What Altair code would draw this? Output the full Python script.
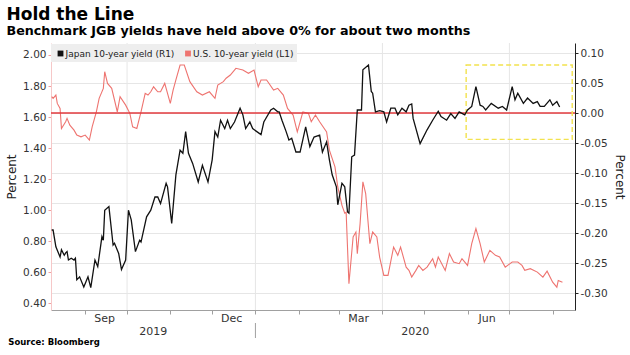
import altair as alt
import pandas as pd

TITLE = "Hold the Line"
SUBTITLE = "Benchmark JGB yields have held above 0% for about two months"
SOURCE = "Source: Bloomberg"
JP_NAME = "Japan 10-year yield (R1)"
US_NAME = "U.S. 10-year yield (L1)"
AXIS_TITLE = "Percent"

jp_dates = [
    "2019-08-08", "2019-08-09", "2019-08-11", "2019-08-14", "2019-08-15", "2019-08-17", "2019-08-18",
    "2019-08-19", "2019-08-20", "2019-08-22", "2019-08-24", "2019-08-25", "2019-08-26", "2019-08-28",
    "2019-08-31", "2019-09-03", "2019-09-05", "2019-09-08", "2019-09-10", "2019-09-13", "2019-09-14",
    "2019-09-15", "2019-09-18", "2019-09-21", "2019-09-22", "2019-09-25", "2019-09-27", "2019-09-30",
    "2019-10-02", "2019-10-04", "2019-10-07", "2019-10-10", "2019-10-11", "2019-10-15", "2019-10-18",
    "2019-10-21", "2019-10-23", "2019-10-25", "2019-10-29", "2019-10-30",
    "2019-11-02", "2019-11-05", "2019-11-08", "2019-11-10", "2019-11-12", "2019-11-14", "2019-11-17",
    "2019-11-21", "2019-11-24", "2019-11-28",
    "2019-12-01", "2019-12-03", "2019-12-05", "2019-12-07", "2019-12-10", "2019-12-12", "2019-12-14",
    "2019-12-17", "2019-12-21", "2019-12-23", "2019-12-25", "2019-12-28", "2019-12-30",
    "2020-01-05", "2020-01-07", "2020-01-12", "2020-01-14", "2020-01-17", "2020-01-18", "2020-01-20",
    "2020-01-23", "2020-01-25", "2020-01-27", "2020-01-30",
    "2020-02-02", "2020-02-06", "2020-02-09", "2020-02-12", "2020-02-16", "2020-02-18", "2020-02-21",
    "2020-02-23", "2020-02-25", "2020-02-28", "2020-02-29",
    "2020-03-03", "2020-03-05", "2020-03-07", "2020-03-08", "2020-03-10", "2020-03-12", "2020-03-14",
    "2020-03-17", "2020-03-18", "2020-03-22", "2020-03-24", "2020-03-25", "2020-03-27", "2020-03-30",
    "2020-04-02", "2020-04-04", "2020-04-07", "2020-04-10", "2020-04-12", "2020-04-15", "2020-04-18",
    "2020-04-20", "2020-04-22", "2020-04-23", "2020-04-28",
    "2020-05-03", "2020-05-07", "2020-05-11", "2020-05-13", "2020-05-17", "2020-05-20", "2020-05-23",
    "2020-05-26", "2020-05-30",
    "2020-06-01", "2020-06-04", "2020-06-07", "2020-06-10", "2020-06-12", "2020-06-14", "2020-06-18",
    "2020-06-23", "2020-06-26", "2020-06-29",
    "2020-07-03", "2020-07-05", "2020-07-07", "2020-07-11", "2020-07-14", "2020-07-18", "2020-07-21",
    "2020-07-23", "2020-07-26", "2020-07-30",
    "2020-08-01", "2020-08-04", "2020-08-06",
]
jp_values = [
    -0.195, -0.195, -0.223, -0.240, -0.228, -0.237, -0.233,
    -0.231, -0.245, -0.242, -0.245, -0.242, -0.278, -0.273,
    -0.290, -0.273, -0.291, -0.245, -0.256, -0.206, -0.212,
    -0.162, -0.156, -0.220, -0.217, -0.234, -0.261, -0.245,
    -0.162, -0.178, -0.231, -0.212, -0.215, -0.173, -0.162,
    -0.140, -0.140, -0.151, -0.117, -0.123,
    -0.184, -0.103, -0.062, -0.067, -0.031, -0.067, -0.084,
    -0.115, -0.087, -0.115,
    -0.078, -0.031, -0.040, -0.012, -0.026, -0.012, -0.026,
    -0.015, 0.008, -0.003, -0.026, -0.015, -0.026,
    -0.036, -0.015, 0.005, 0.008, 0.002, 0.002, -0.012,
    -0.031, -0.045, -0.042, -0.065,
    -0.065, -0.023, -0.056, -0.040, -0.037, -0.065, -0.048,
    -0.078, -0.103, -0.123, -0.153,
    -0.117, -0.123, -0.165, -0.167, -0.073, -0.070, 0.005,
    0.005, 0.072, 0.080, 0.036, 0.033, 0.002, 0.004,
    0.002, -0.015, 0.008, 0.008, -0.003, 0.008, 0.002,
    0.013, 0.015, -0.009, -0.051,
    -0.028, -0.012, 0.003, -0.006, -0.012, -0.001, -0.009,
    0.002, -0.003,
    0.005, 0.011, 0.044, 0.013, 0.011, 0.005, 0.016,
    0.008, 0.011, 0.005,
    0.044, 0.022, 0.033, 0.016, 0.025, 0.016, 0.019,
    0.011, 0.011, 0.022,
    0.013, 0.019, 0.010,
]

us_dates = [
    "2019-08-08", "2019-08-09", "2019-08-11", "2019-08-12", "2019-08-14", "2019-08-15", "2019-08-18",
    "2019-08-19", "2019-08-21", "2019-08-24", "2019-08-26", "2019-08-29",
    "2019-09-01", "2019-09-04", "2019-09-06", "2019-09-09", "2019-09-11", "2019-09-14", "2019-09-15",
    "2019-09-17", "2019-09-20", "2019-09-22", "2019-09-24", "2019-09-26", "2019-09-30",
    "2019-10-03", "2019-10-05", "2019-10-08", "2019-10-11", "2019-10-14", "2019-10-16", "2019-10-18",
    "2019-10-20", "2019-10-23", "2019-10-25", "2019-10-28",
    "2019-11-01", "2019-11-03", "2019-11-05", "2019-11-08", "2019-11-11", "2019-11-15", "2019-11-20",
    "2019-11-24", "2019-11-29",
    "2019-12-03", "2019-12-05", "2019-12-09", "2019-12-11", "2019-12-14", "2019-12-18", "2019-12-23",
    "2019-12-27", "2019-12-31",
    "2020-01-03", "2020-01-05", "2020-01-09", "2020-01-14", "2020-01-17", "2020-01-21", "2020-01-24",
    "2020-01-28", "2020-01-31",
    "2020-02-04", "2020-02-08", "2020-02-10", "2020-02-13", "2020-02-16", "2020-02-21", "2020-02-23",
    "2020-02-27", "2020-02-29",
    "2020-03-03", "2020-03-05", "2020-03-06", "2020-03-08", "2020-03-11", "2020-03-13", "2020-03-14",
    "2020-03-16", "2020-03-18", "2020-03-20", "2020-03-23", "2020-03-25", "2020-03-28", "2020-03-30",
    "2020-04-02", "2020-04-05", "2020-04-09", "2020-04-12", "2020-04-14", "2020-04-18", "2020-04-20",
    "2020-04-22", "2020-04-25", "2020-04-27", "2020-04-30",
    "2020-05-03", "2020-05-07", "2020-05-09", "2020-05-11", "2020-05-16", "2020-05-19", "2020-05-22",
    "2020-05-26", "2020-05-28",
    "2020-06-01", "2020-06-04", "2020-06-07", "2020-06-10", "2020-06-13", "2020-06-17", "2020-06-21",
    "2020-06-24", "2020-06-28",
    "2020-07-03", "2020-07-07", "2020-07-10", "2020-07-12", "2020-07-16", "2020-07-21", "2020-07-25",
    "2020-07-28",
    "2020-08-01", "2020-08-04", "2020-08-05", "2020-08-08",
]
us_values = [
    1.731, 1.721, 1.742, 1.688, 1.656, 1.527, 1.570,
    1.592, 1.548, 1.516, 1.484, 1.473,
    1.484, 1.452, 1.537, 1.634, 1.721, 1.785, 1.892,
    1.817, 1.785, 1.710, 1.634, 1.731, 1.677,
    1.624, 1.537, 1.527, 1.634, 1.753, 1.742, 1.763,
    1.795, 1.763, 1.763, 1.817,
    1.688, 1.774, 1.839, 1.935, 1.935, 1.828, 1.763,
    1.742, 1.763,
    1.721, 1.806, 1.828, 1.850, 1.871, 1.914, 1.903,
    1.882, 1.903,
    1.795, 1.839, 1.839, 1.774, 1.785, 1.742, 1.656,
    1.613, 1.505,
    1.634, 1.624, 1.570, 1.613, 1.570, 1.505, 1.387,
    1.279, 1.150,
    1.032, 0.981, 0.987, 0.527, 0.828, 0.860, 0.721,
    0.914, 1.183, 1.108, 0.785, 0.860, 0.828, 0.699,
    0.581, 0.581, 0.763, 0.710, 0.763, 0.634, 0.613,
    0.570, 0.613, 0.645, 0.613,
    0.634, 0.688, 0.634, 0.699, 0.613, 0.721, 0.667,
    0.656, 0.688,
    0.645, 0.785, 0.882, 0.785, 0.667, 0.742, 0.710,
    0.699, 0.634,
    0.667, 0.667, 0.645, 0.613, 0.624, 0.602, 0.570,
    0.608,
    0.537, 0.505, 0.548, 0.537,
]

left_ticks = [0.40, 0.60, 0.80, 1.00, 1.20, 1.40, 1.60, 1.80, 2.00]
right_ticks = [-0.30, -0.25, -0.20, -0.15, -0.10, -0.05, 0.00, 0.05, 0.10]
us_domain = [0.358, 2.077]
jp_domain = [-0.3283, 0.1167]
zero_level = [0.0]

month_ticks = ["2019-09-01", "2019-10-01", "2019-11-01", "2019-12-01", "2020-01-01", "2020-02-01",
               "2020-03-01", "2020-04-01", "2020-05-01", "2020-06-01", "2020-07-01", "2020-08-01"]
quarter_grid = ["2019-10-01", "2020-01-01", "2020-04-01", "2020-07-01"]
month_labels = ["Sep", "Dec", "Mar", "Jun"]
month_label_dates = ["2019-09-15", "2019-12-15", "2020-03-15", "2020-06-15"]
year_labels = ["2019", "2020"]
year_break = "2020-01-01"
x_start, x_end = "2019-08-07 12:00", "2020-08-17"

box_start, box_end = "2020-05-31", "2020-08-15"
box_top, box_bottom = 0.08, -0.044

assert len(jp_dates) == len(jp_values)
assert len(us_dates) == len(us_values)

W, H = 524, 267
FONT = "DejaVu Sans"
US_COLOR = "#ee7470"
ZERO_COLOR = "#e23a3e"
JP_COLOR = "#111111"


def dt(s):
    t = pd.Timestamp(s)
    return alt.DateTime(year=t.year, month=t.month, date=t.day, hours=t.hour, minutes=t.minute)


jp_df = pd.DataFrame({"date": pd.to_datetime(jp_dates), "jp": jp_values})
us_df = pd.DataFrame({"date": pd.to_datetime(us_dates), "us": us_values})

t0, tb, t1 = pd.Timestamp(x_start), pd.Timestamp(year_break), pd.Timestamp(x_end)
year_df = pd.DataFrame({"date": [t0 + (tb - t0) / 2, tb + (t1 - tb) / 2], "label": year_labels})
month_df = pd.DataFrame({"date": pd.to_datetime(month_label_dates), "label": month_labels})
grid_df = pd.DataFrame({"date": pd.to_datetime(quarter_grid)})
break_df = pd.DataFrame({"date": pd.to_datetime([year_break])})
box_df = pd.DataFrame({"start": pd.to_datetime([box_start]), "end": pd.to_datetime([box_end]),
                       "jp": [box_top], "jp2": [box_bottom]})
zero_df = pd.DataFrame({"jp": zero_level})

x_scale = alt.Scale(domain=[dt(x_start), dt(x_end)], nice=False)
x_axis = alt.Axis(values=[dt(s) for s in month_ticks], labels=False, ticks=True, tickSize=4,
                  tickColor="#a0a0a0", domainColor="#a0a0a0", grid=False, title=None)


def X(field="date:T"):
    return alt.X(field, scale=x_scale, axis=x_axis)


us_scale = alt.Scale(domain=us_domain, nice=False, zero=False)
us_axis = alt.Axis(orient="left", values=left_ticks, format=".2f", grid=False, title=AXIS_TITLE,
                   tickSize=3, tickColor="#f0a0a0", domainColor="#f6c8c8", labelPadding=2,
                   titlePadding=4)
jp_scale = alt.Scale(domain=jp_domain, nice=False, zero=False)
jp_axis = alt.Axis(orient="right", values=right_ticks,
                   labelExpr="replace(format(datum.value, '.2f'), '\u2212', '-')",
                   grid=True, gridColor="#e6e6e6", title=AXIS_TITLE, tickSize=3,
                   tickColor="#222222", domainColor="#222222", labelPadding=2, titlePadding=5)
jp_y = alt.Y("jp:Q", scale=jp_scale, axis=jp_axis)

grid = alt.Chart(grid_df).mark_rule(color="#e6e6e6", strokeWidth=1).encode(x=X())

us_line = alt.Chart(us_df).mark_line(color=US_COLOR, strokeWidth=1.1).encode(
    x=X(), y=alt.Y("us:Q", scale=us_scale, axis=us_axis))

zero = alt.Chart(zero_df).mark_rule(color=ZERO_COLOR, strokeWidth=1.5).encode(y=jp_y)
box = alt.Chart(box_df).mark_rect(fillOpacity=0, stroke="#f2e24e", strokeWidth=1.4,
                                  strokeDash=[5, 3]).encode(
    x=X("start:T"), x2="end:T", y=jp_y, y2="jp2:Q")
jp_line = alt.Chart(jp_df).mark_line(color=JP_COLOR, strokeWidth=1.3).encode(x=X(), y=jp_y)
jp_layer = alt.layer(zero, box, jp_line)

month_text = alt.Chart(month_df).mark_text(font=FONT, fontSize=11, color="#333333",
                                           baseline="alphabetic").encode(
    x=X(), y=alt.value(H + 12), text="label:N")
year_text = alt.Chart(year_df).mark_text(font=FONT, fontSize=11, color="#333333",
                                         baseline="alphabetic").encode(
    x=X(), y=alt.value(H + 24.5), text="label:N")
year_rule = alt.Chart(break_df).mark_rule(color="#a0a0a0", strokeWidth=1).encode(
    x=X(), y=alt.value(H + 13), y2=alt.value(H + 28))


def one(text):
    return pd.DataFrame({"t": [text]})


title_t = alt.Chart(one(TITLE)).mark_text(font=FONT, fontWeight="bold", fontSize=17, color="#000000",
                                          align="left", baseline="alphabetic").encode(
    x=alt.value(-44.5), y=alt.value(-23), text="t:N")
subtitle_t = alt.Chart(one(SUBTITLE)).mark_text(font=FONT, fontWeight="bold", fontSize=12.7,
                                                color="#000000", align="left",
                                                baseline="alphabetic").encode(
    x=alt.value(-44.5), y=alt.value(-8.5), text="t:N")
source_t = alt.Chart(one(SOURCE)).mark_text(font=FONT, fontWeight="bold", fontSize=8.5,
                                            color="#000000", align="left",
                                            baseline="alphabetic").encode(
    x=alt.value(-42.7), y=alt.value(H + 35), text="t:N")

legend_bg = alt.Chart(one("")).mark_rect(color="#eeeeee").encode(
    x=alt.value(0), x2=alt.value(246), y=alt.value(1), y2=alt.value(19))
leg_jp_sq = alt.Chart(one("")).mark_square(size=34, color=JP_COLOR, opacity=1).encode(
    x=alt.value(9.5), y=alt.value(10.5))
leg_us_sq = alt.Chart(one("")).mark_square(size=34, color=US_COLOR, opacity=1).encode(
    x=alt.value(137), y=alt.value(10.5))
leg_jp_t = alt.Chart(one(JP_NAME)).mark_text(font=FONT, fontSize=9, color="#222222", align="left",
                                             baseline="middle").encode(
    x=alt.value(14.5), y=alt.value(11), text="t:N")
leg_us_t = alt.Chart(one(US_NAME)).mark_text(font=FONT, fontSize=9, color="#222222", align="left",
                                             baseline="middle").encode(
    x=alt.value(142), y=alt.value(11), text="t:N")

chart = alt.layer(
    grid, us_line, jp_layer,
    month_text, year_text, year_rule,
    legend_bg, leg_jp_sq, leg_us_sq, leg_jp_t, leg_us_t,
    title_t, subtitle_t, source_t,
).resolve_scale(y="independent").properties(
    width=W, height=H,
    autosize=alt.AutoSizeParams(type="none"),
    padding={"left": 51, "top": 43, "right": 55, "bottom": 45},
    background="#ffffff",
).configure_view(stroke=None).configure_axis(
    labelFont=FONT, labelFontSize=10.5, labelColor="#333333",
    titleFont=FONT, titleFontSize=12, titleFontWeight="normal", titleColor="#222222",
)

chart.save("out.html", embed_options={"renderer": "svg", "actions": False})
